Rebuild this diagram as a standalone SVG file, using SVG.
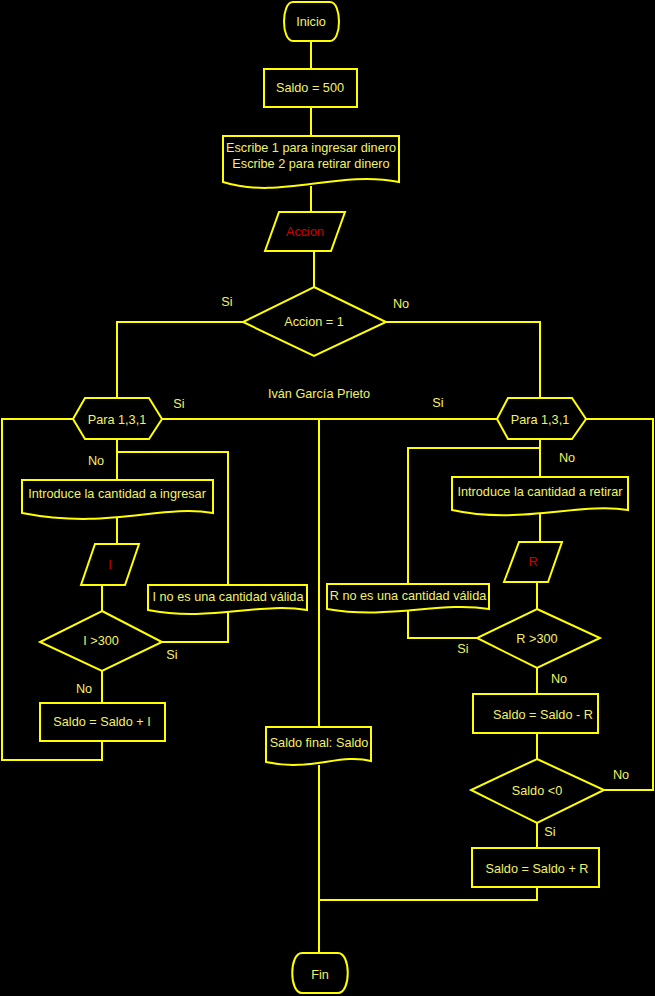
<svg xmlns="http://www.w3.org/2000/svg" width="655" height="996" viewBox="0 0 655 996">
<style>
.s{fill:none;stroke:#FFFF00;stroke-width:2;stroke-linejoin:miter}
.n{fill:#000;stroke:#FFFF00;stroke-width:2}
.t{font-family:"Liberation Sans",Arial,sans-serif;font-size:12.7px;fill:#F2F266;text-anchor:middle}
.r{font-family:"Liberation Sans",Arial,sans-serif;font-size:12.7px;fill:#D00000;text-anchor:middle}
</style>
<rect width="655" height="996" fill="#000"/>
<g id="connectors" class="s">
<polyline points="311,41 311,69"/>
<polyline points="311,107 311,136"/>
<polyline points="311,186 311,212"/>
<polyline points="314,251 314,287"/>
<polyline points="243,322 117,322 117,398"/>
<polyline points="386,322 540,322 540,398"/>
<polyline points="73,419 2,419 2,760 102,760 102,741"/>
<polyline points="162,419 497,419"/>
<polyline points="319,419 319,727"/>
<polyline points="586,419 653,419 653,790 604,790"/>
<polyline points="117,439 117,480"/>
<polyline points="117,452 228,452 228,585"/>
<polyline points="117,516 117,544"/>
<polyline points="102,585 102,611"/>
<polyline points="162,642 228,642 228,612"/>
<polyline points="102,671 102,703"/>
<polyline points="540,439 540,477"/>
<polyline points="540,448 408,448 408,584"/>
<polyline points="540,513 540,542"/>
<polyline points="537,582 537,609"/>
<polyline points="477,638 408,638 408,610"/>
<polyline points="537,668 537,694"/>
<polyline points="537,733 537,759"/>
<polyline points="537,823 537,848"/>
<polyline points="537,887 537,900 319,900"/>
<polyline points="319,765 319,953"/>
</g>
<g id="labels">
<text class="t" x="227" y="306">Si</text>
<text class="t" x="401" y="308">No</text>
<text class="t" x="319" y="398">Iván García Prieto</text>
<text class="t" x="179" y="408">Si</text>
<text class="t" x="438" y="407">Si</text>
<text class="t" x="96" y="465">No</text>
<text class="t" x="567" y="462">No</text>
<text class="t" x="172" y="659">Si</text>
<text class="t" x="84" y="693">No</text>
<text class="t" x="463" y="653">Si</text>
<text class="t" x="559" y="683">No</text>
<text class="t" x="621" y="779">No</text>
<text class="t" x="550" y="836">Si</text>
</g>
<g id="inicio">
<path class="n" d="M293,2 H330 C342,2 342,41 330,41 H293 C281,41 281,2 293,2 Z"/>
<text class="t" x="311" y="26">Inicio</text>
</g>
<g id="saldo500">
<rect class="n" x="264" y="69" width="93" height="38"/>
<text class="t" x="310" y="92">Saldo = 500</text>
</g>
<g id="escribe">
<path class="n" d="M223,136 H399 V182 C337,170 280,200 223,182 Z"/>
<text class="t" x="311" y="152">Escribe 1 para ingresar dinero</text>
<text class="t" x="311" y="168">Escribe 2 para retirar dinero</text>
</g>
<g id="accion">
<polygon class="n" points="279,212 345,212 331,251 265,251"/>
<text class="r" x="305" y="236">Accion</text>
</g>
<g id="accion1">
<polygon class="n" points="314,287 386,322 314,356 243,322"/>
<text class="t" x="314" y="326">Accion = 1</text>
</g>
<g id="para_izq">
<polygon class="n" points="85,398 149,398 162,419 149,439 85,439 73,419"/>
<text class="t" x="117" y="424">Para 1,3,1</text>
</g>
<g id="para_der">
<polygon class="n" points="508,398 572,398 586,419 572,439 508,439 497,419"/>
<text class="t" x="540" y="424">Para 1,3,1</text>
</g>
<g id="introduce_ingresar">
<path class="n" d="M22,480 H213 V513 C160,504 110,530 22,513 Z"/>
<text class="t" x="117" y="498">Introduce la cantidad a ingresar</text>
</g>
<g id="input_i">
<polygon class="n" points="95,544 139,544 125,585 81,585"/>
<text class="r" x="110" y="569">I</text>
</g>
<g id="i300">
<polygon class="n" points="102,611 162,642 102,671 40,642"/>
<text class="t" x="101" y="645">I &gt;300</text>
</g>
<g id="i_novalida">
<path class="n" d="M148,585 H307 V610 C260,602 210,622 148,610 Z"/>
<text class="t" x="228" y="601">I no es una cantidad válida</text>
</g>
<g id="saldo_mas_i">
<rect class="n" x="40" y="703" width="125" height="38"/>
<text class="t" x="102" y="726">Saldo = Saldo + I</text>
</g>
<g id="introduce_retirar">
<path class="n" d="M452,477 H628 V510 C580,502 520,525 452,510 Z"/>
<text class="t" x="540" y="496">Introduce la cantidad a retirar</text>
</g>
<g id="input_r">
<polygon class="n" points="519,542 562,542 548,582 504,582"/>
<text class="r" x="533" y="566">R</text>
</g>
<g id="r300">
<polygon class="n" points="537,609 600,638 537,668 477,638"/>
<text class="t" x="537" y="643">R &gt;300</text>
</g>
<g id="r_novalida">
<path class="n" d="M327,584 H489 V609 C440,601 390,620 327,609 Z"/>
<text class="t" x="408" y="600">R no es una cantidad válida</text>
</g>
<g id="saldo_menos_r">
<rect class="n" x="473" y="694" width="125" height="39"/>
<text class="t" x="543" y="719">Saldo = Saldo - R</text>
</g>
<g id="saldo0">
<polygon class="n" points="537,759 604,790 537,823 471,790"/>
<text class="t" x="537" y="795">Saldo &lt;0</text>
</g>
<g id="saldo_mas_r">
<rect class="n" x="472" y="848" width="127" height="39"/>
<text class="t" x="537" y="873">Saldo = Saldo + R</text>
</g>
<g id="saldo_final">
<path class="n" d="M266,727 H371 V761 C340,753 310,772 266,762 Z"/>
<text class="t" x="319" y="747">Saldo final: Saldo</text>
</g>
<g id="fin">
<path class="n" d="M302,953 H338 C351,953 351,993 338,993 H302 C289,993 289,953 302,953 Z"/>
<text class="t" x="320" y="979">Fin</text>
</g>
</svg>
